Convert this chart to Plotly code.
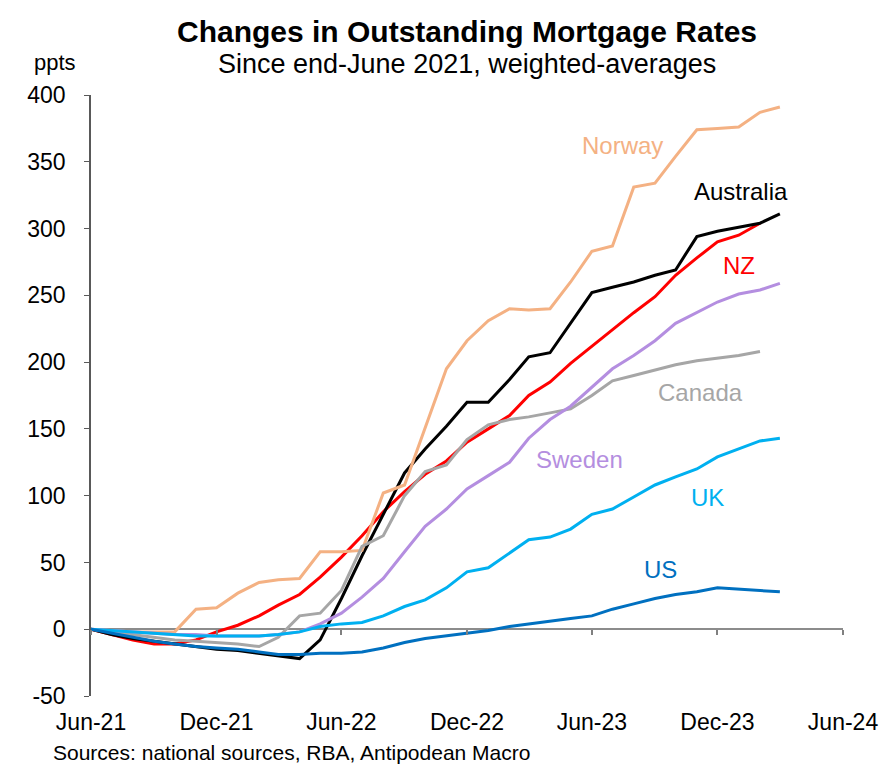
import plotly.graph_objects as go

months = [
    "2021-06", "2021-07", "2021-08", "2021-09", "2021-10", "2021-11", "2021-12",
    "2022-01", "2022-02", "2022-03", "2022-04", "2022-05", "2022-06", "2022-07",
    "2022-08", "2022-09", "2022-10", "2022-11", "2022-12", "2023-01", "2023-02",
    "2023-03", "2023-04", "2023-05", "2023-06", "2023-07", "2023-08", "2023-09",
    "2023-10", "2023-11", "2023-12", "2024-01", "2024-02", "2024-03",
]

norway = [0, -1, -2, -2, -2, 15, 16, 27, 35, 37, 38, 58, 58, 59, 102, 108, 150,
          195, 216, 231, 240, 239, 240, 260, 283, 287, 331, 334, 354, 374, 375,
          376, 387, 391]
australia = [0, -4, -7, -9, -11, -13, -15, -16, -18, -20, -22, -8, 23, 55, 86,
             117, 135, 152, 170, 170, 187, 204, 207, 229, 252, 256, 260, 265,
             269, 294, 298, 301, 304, 311]
nz = [0, -4, -8, -11, -11, -8, -2, 3, 10, 18, 26, 39, 54, 70, 88, 103, 116,
      126, 140, 150, 160, 175, 185, 199, 212, 224, 237, 249, 265, 278, 290,
      295, 304]
canada = [0, -2, -4, -6, -8, -9, -10, -11, -13, -6, 10, 12, 29, 62, 70, 100,
          118, 123, 142, 153, 157, 159, 162, 165, 175, 186, 190, 194, 198, 201,
          203, 205, 208]
sweden = [0, -1, -2, -3, -4, -4, -5, -5, -5, -4, -2, 4, 12, 24, 38, 58, 77, 90,
          105, 115, 125, 143, 157, 167, 181, 195, 205, 216, 229, 237, 245, 251,
          254, 259]
uk = [0, -1, -2, -3, -4, -5, -5, -5, -5, -4, -2, 2, 4, 5, 10, 17, 22, 31, 43,
      46, 57, 67, 69, 75, 86, 90, 99, 108, 114, 120, 129, 135, 141, 143]
us = [0, -3, -6, -9, -11, -13, -14, -15, -17, -19, -19, -18, -18, -17, -14,
      -10, -7, -5, -3, -1, 2, 4, 6, 8, 10, 15, 19, 23, 26, 28, 31, 30, 29, 28]

tick_vals = ["2021-06", "2021-12", "2022-06", "2022-12", "2023-06", "2023-12", "2024-06"]
tick_text = ["Jun-21", "Dec-21", "Jun-22", "Dec-22", "Jun-23", "Dec-23", "Jun-24"]
y_ticks = [-50, 0, 50, 100, 150, 200, 250, 300, 350, 400]
y_tick_text = ["-50", "0", "50", "100", "150", "200", "250", "300", "350", "400"]

series = [
    ("NZ", nz, "#FF0000"),
    ("Australia", australia, "#000000"),
    ("Norway", norway, "#F4B183"),
    ("Canada", canada, "#A6A6A6"),
    ("Sweden", sweden, "#B48EE0"),
    ("UK", uk, "#00B0F0"),
    ("US", us, "#0070C0"),
]

labels = [
    ("Norway", "2023-07-15", 362, "#F4B183"),
    ("Australia", "2024-01-05", 328, "#000000"),
    ("NZ", "2024-01-01", 272, "#FF0000"),
    ("Canada", "2023-11-06", 177, "#A6A6A6"),
    ("Sweden", "2023-05-14", 127, "#B48EE0"),
    ("UK", "2023-11-16", 99, "#00B0F0"),
    ("US", "2023-09-09", 45, "#0070C0"),
]

FONT = "Arial, Liberation Sans, sans-serif"

fig = go.Figure()
for name, vals, col in series:
    fig.add_trace(go.Scatter(
        x=months[:len(vals)], y=vals, mode="lines", name=name,
        line=dict(color=col, width=3), hoverinfo="x+y+name",
    ))

# helper trace so the tick marks on the zero line are drawn
fig.add_trace(go.Scatter(x=[months[0]], y=[0], xaxis="x2", mode="lines",
                         line=dict(width=0), showlegend=False, hoverinfo="skip"))

for text, x, y, col in labels:
    fig.add_annotation(x=x, y=y, text=text, showarrow=False, xanchor="center",
                       font=dict(family=FONT, size=24, color=col))

fig.add_annotation(xref="paper", yref="paper", x=0.5, y=1.0, yanchor="middle", yshift=64,
                   text="<b>Changes in Outstanding Mortgage Rates</b>", showarrow=False,
                   font=dict(family=FONT, size=30, color="black"))
fig.add_annotation(xref="paper", yref="paper", x=0.5, y=1.0, yanchor="middle", yshift=31,
                   text="Since end-June 2021, weighted-averages", showarrow=False,
                   font=dict(family=FONT, size=27, color="black"))
fig.add_annotation(xref="paper", yref="paper", x=-0.048, y=1.0, xanchor="center",
                   yanchor="middle", yshift=33,
                   text="ppts", showarrow=False,
                   font=dict(family=FONT, size=22, color="black"))
fig.add_annotation(xref="paper", yref="paper", x=-0.053, y=0.0, yanchor="middle", yshift=-56,
                   xanchor="left", text="Sources: national sources, RBA, Antipodean Macro",
                   showarrow=False,
                   font=dict(family=FONT, size=21, color="black"))

fig.update_layout(
    width=884, height=762,
    margin=dict(l=83, r=49, t=87, b=74),
    plot_bgcolor="white", paper_bgcolor="white",
    showlegend=False,
    font=dict(family=FONT, size=23, color="black"),
    xaxis=dict(
        range=["2021-06-01", "2024-06-01"], tickvals=tick_vals, ticktext=tick_text,
        showgrid=False, zeroline=False, showline=False, ticks="",
        ticklabelstandoff=10, tickfont=dict(size=23),
    ),
    xaxis2=dict(
        range=["2021-06-01", "2024-06-01"], tickvals=tick_vals, overlaying="x",
        anchor="free", position=50 / 450, showgrid=False, zeroline=False,
        showline=False, ticks="outside", ticklen=5, tickcolor="#808080",
        tickwidth=1.5, showticklabels=False,
    ),
    yaxis=dict(
        range=[-50, 400], tickvals=y_ticks, ticktext=y_tick_text, showgrid=False,
        zeroline=True, zerolinecolor="#8C8C8C", zerolinewidth=1.5,
        showline=True, linecolor="#595959", linewidth=1.5,
        ticks="outside", ticklen=5, tickcolor="#595959",
        ticklabelstandoff=14, tickfont=dict(size=23),
    ),
)

fig.write_html("out.html")
